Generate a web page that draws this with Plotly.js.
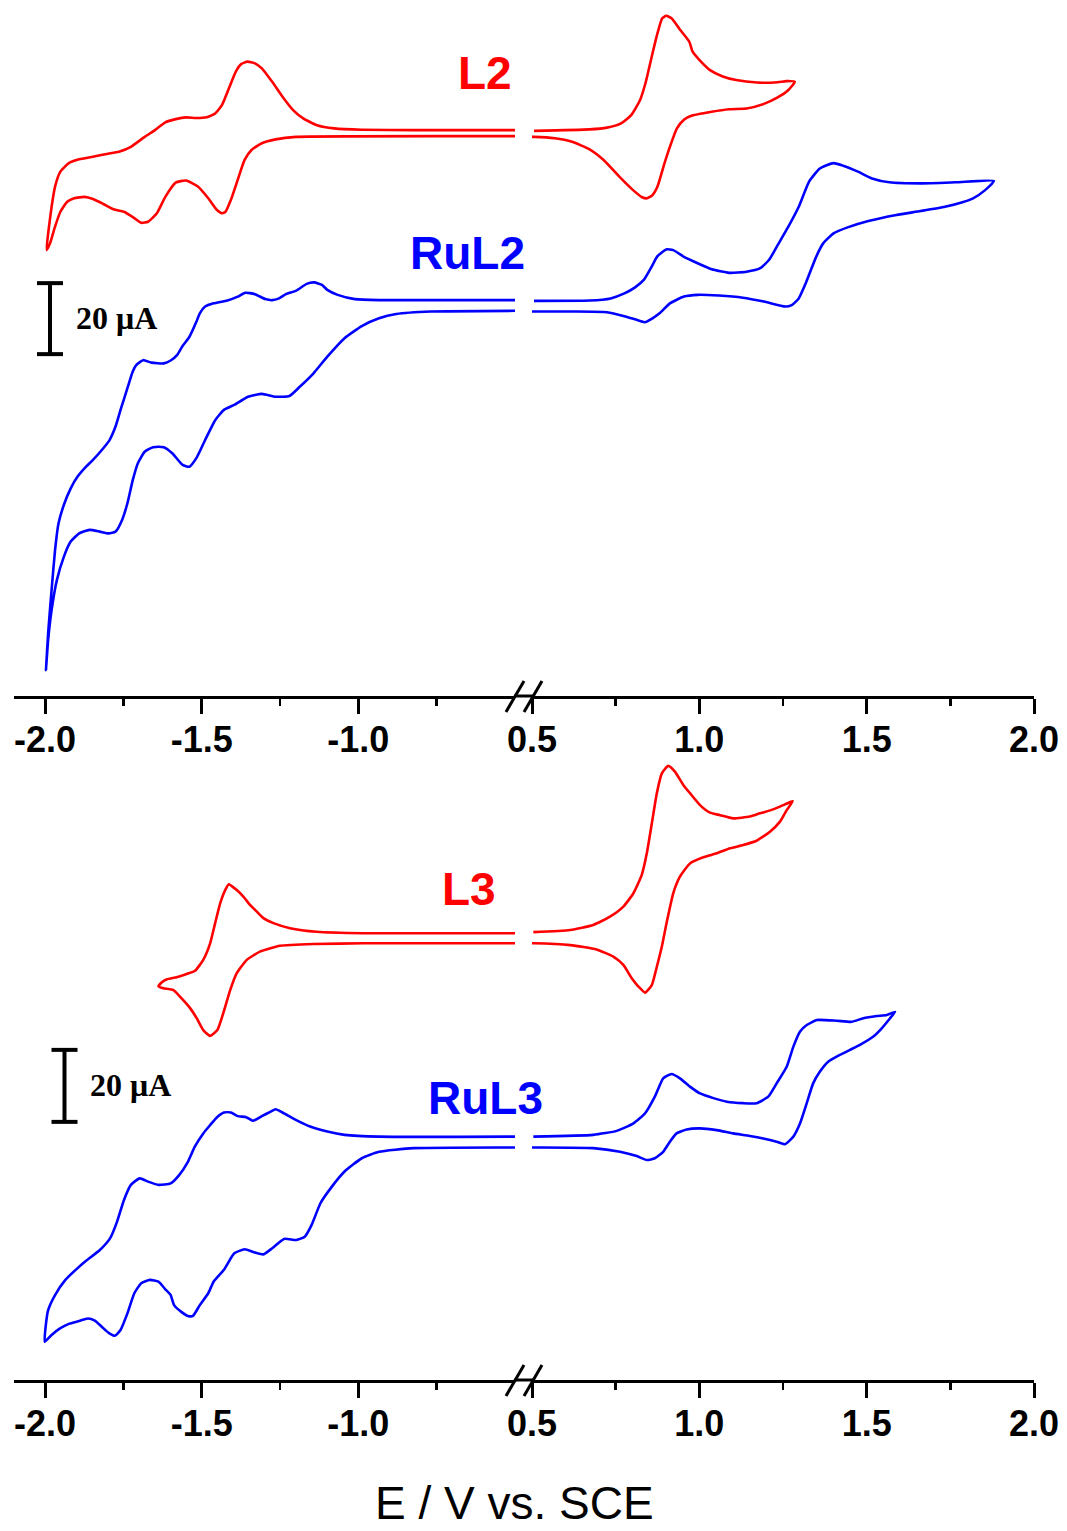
<!DOCTYPE html>
<html>
<head>
<meta charset="utf-8">
<script src="https://cdn.plot.ly/plotly-3.0.1.min.js"></script>
<style>html,body{margin:0;padding:0;background:#fff;}#chart{width:1067px;height:1531px;}</style>
</head>
<body>
<div id="chart"></div>
<script>
// ---------- DATA (E in V vs. SCE, I in microamps; curves offset for display) ----------
// Each CV is a closed loop: upper-right branch, lower-right, lower-left, upper-left
const L2_E = [
  0.506, 0.672, 0.724, 0.766, 0.797, 0.823, 0.839, 0.860, 0.875, 0.889, 0.901, 0.917, 0.943, 0.970, 0.980, 1.000, 1.032, 1.068, 1.110, 1.172, 1.234, 1.260, 1.285,
  1.266, 1.234, 1.193, 1.141, 1.089, 1.037, 0.974, 0.954, 0.933, 0.912, 0.896, 0.875, 0.860, 0.844, 0.829, 0.802, 0.766, 0.714, 0.672, 0.620, 0.568, 0.506,
  -0.499, -1.199, -1.264, -1.308, -1.341, -1.363, -1.385, -1.407, -1.424, -1.435, -1.451, -1.479, -1.512, -1.550, -1.583, -1.616, -1.643, -1.671, -1.693, -1.715, -1.748, -1.781, -1.814, -1.847, -1.874, -1.907, -1.929, -1.951, -1.968, -1.984, -1.995,
  -1.990, -1.979, -1.968, -1.951, -1.924, -1.891, -1.847, -1.803, -1.764, -1.726, -1.682, -1.649, -1.616, -1.583, -1.550, -1.517, -1.484, -1.457, -1.435, -1.413, -1.391, -1.374, -1.354, -1.330, -1.308, -1.275, -1.242, -1.209, -1.176, -1.132, -1.077, -0.989, -0.825, -0.499
];
const L2_I = [
  159.2, 159.6, 160.1, 161.3, 163.7, 167.9, 172.6, 181.0, 186.7, 190.9, 191.6, 190.9, 187.6, 184.3, 181.5, 179.2, 176.3, 174.6, 173.5, 172.8, 172.9, 173.2, 173.0,
  170.7, 168.6, 166.8, 165.5, 165.3, 164.6, 163.4, 162.3, 159.9, 154.7, 150.1, 143.5, 141.1, 140.2, 140.5, 142.5, 145.8, 151.0, 154.0, 156.1, 157.1, 157.5,
  157.7, 157.5, 156.8, 155.7, 153.8, 151.0, 145.4, 139.7, 136.4, 136.0, 136.9, 140.2, 143.5, 145.2, 144.6, 140.6, 136.0, 133.6, 133.3, 134.6, 136.4, 137.1, 138.6, 140.0, 140.6, 140.2, 139.2, 136.4, 132.2, 127.5, 125.6,
  130.3, 137.8, 143.5, 147.7, 150.1, 151.2, 151.9, 152.7, 153.3, 154.7, 157.5, 159.4, 161.6, 162.5, 163.0, 162.8, 163.0, 164.1, 166.5, 171.2, 175.9, 178.0, 178.7, 178.2, 176.8, 173.0, 168.8, 165.1, 162.7, 160.8, 159.9, 159.5, 159.4, 159.4
];

const RuL2_E = [
  0.506, 0.672, 0.735, 0.776, 0.808, 0.834, 0.855, 0.875, 0.901, 0.922, 0.954, 0.995, 1.037, 1.089, 1.141, 1.182, 1.208, 1.234, 1.266, 1.297, 1.328, 1.360, 1.401, 1.432, 1.474, 1.516, 1.568, 1.661, 1.766, 1.880,
  1.854, 1.818, 1.786, 1.734, 1.661, 1.589, 1.505, 1.443, 1.401, 1.370, 1.349, 1.318, 1.297, 1.276, 1.257, 1.193, 1.130, 1.058, 0.995, 0.954, 0.912, 0.881, 0.860, 0.837, 0.808, 0.776, 0.724, 0.620, 0.506,
  -0.500, -0.769, -0.879, -0.934, -0.989, -1.044, -1.099, -1.143, -1.187, -1.220, -1.264, -1.308, -1.352, -1.396, -1.429, -1.457, -1.489, -1.517, -1.539, -1.561, -1.594, -1.621, -1.655, -1.682, -1.704, -1.720, -1.737, -1.754, -1.775, -1.797, -1.825, -1.858, -1.891, -1.918, -1.940, -1.962, -1.979, -1.990, -1.997,
  -1.990, -1.979, -1.968, -1.957, -1.940, -1.918, -1.896, -1.869, -1.847, -1.814, -1.794, -1.775, -1.759, -1.737, -1.720, -1.709, -1.687, -1.660, -1.621, -1.599, -1.578, -1.561, -1.539, -1.517, -1.506, -1.489, -1.462, -1.418, -1.385, -1.361, -1.330, -1.297, -1.275, -1.253, -1.231, -1.198, -1.165, -1.141, -1.116, -1.099, -1.066, -1.011, -0.934, -0.500
];
const RuL2_I = [
  111.3, 111.4, 112.0, 113.4, 115.1, 117.2, 120.5, 123.9, 125.8, 125.6, 123.7, 121.9, 120.2, 119.2, 119.5, 120.5, 122.8, 127.0, 132.2, 137.8, 144.9, 148.6, 150.1, 149.3, 147.7, 145.8, 144.7, 144.4, 144.7, 145.1,
  142.5, 140.2, 139.1, 137.8, 136.6, 135.5, 133.8, 132.0, 130.3, 127.5, 123.7, 116.3, 112.0, 110.1, 109.7, 111.1, 112.2, 112.8, 113.0, 112.5, 110.6, 107.8, 106.4, 105.3, 106.1, 107.0, 108.1, 108.3, 108.3,
  108.5, 108.3, 107.6, 106.4, 104.2, 100.8, 95.6, 90.9, 87.1, 84.5, 84.3, 85.1, 84.3, 82.0, 80.6, 77.7, 72.1, 67.0, 64.6, 65.1, 68.4, 70.1, 70.1, 68.8, 65.5, 60.8, 54.3, 49.6, 46.3, 45.8, 46.3, 46.8, 45.8, 43.5, 39.2, 32.7, 24.2, 15.8, 7.3,
  17.7, 29.9, 41.1, 48.6, 53.8, 58.5, 61.8, 64.6, 66.5, 69.8, 72.1, 75.9, 80.6, 86.7, 91.4, 93.2, 94.6, 93.9, 93.7, 94.5, 96.1, 98.6, 101.2, 105.4, 107.8, 109.7, 110.6, 111.4, 112.5, 113.6, 113.2, 111.8, 111.5, 112.0, 113.2, 114.2, 116.1, 116.5, 115.8, 114.4, 113.0, 111.8, 111.5, 111.5
];

const L3_E = [
  0.504, 0.614, 0.683, 0.733, 0.773, 0.803, 0.828, 0.843, 0.858, 0.873, 0.888, 0.907, 0.927, 0.952, 0.972, 1.002, 1.032, 1.062, 1.101, 1.151, 1.181, 1.221, 1.256, 1.279,
  1.261, 1.241, 1.211, 1.171, 1.131, 1.092, 1.052, 1.012, 0.972, 0.942, 0.922, 0.902, 0.888, 0.873, 0.858, 0.838, 0.818, 0.798, 0.773, 0.743, 0.693, 0.614, 0.504,
  -0.499, -0.984, -1.143, -1.250, -1.314, -1.356, -1.388, -1.409, -1.431, -1.450, -1.473, -1.495, -1.516, -1.537, -1.564, -1.590, -1.622, -1.638,
  -1.627, -1.611, -1.580, -1.548, -1.521, -1.495, -1.473, -1.457, -1.441, -1.425, -1.413, -1.404, -1.388, -1.367, -1.345, -1.324, -1.303, -1.271, -1.218, -1.133, -0.984, -0.499
];
const L3_I = [
  124.4, 125.0, 126.4, 128.7, 131.5, 135.2, 140.3, 146.3, 154.6, 163.0, 168.5, 170.6, 169.0, 165.3, 163.0, 159.7, 157.6, 156.9, 156.0, 156.5, 157.4, 158.5, 159.9, 160.8,
  158.3, 155.1, 152.3, 149.8, 148.6, 147.7, 146.3, 145.2, 143.5, 139.8, 135.2, 126.9, 120.4, 114.8, 109.7, 107.6, 109.3, 111.6, 115.3, 117.6, 119.6, 120.8, 121.3,
  121.3, 121.3, 121.1, 120.6, 119.0, 116.7, 113.0, 108.3, 101.9, 97.2, 95.6, 97.2, 100.5, 103.3, 106.0, 108.3, 108.8, 109.3,
  110.5, 111.3, 111.9, 112.8, 113.7, 116.7, 121.3, 126.9, 132.4, 136.1, 137.7, 137.2, 136.1, 134.3, 131.9, 130.1, 128.3, 126.9, 125.5, 124.5, 124.1, 124.1
];

const RuL3_E = [
  0.504, 0.683, 0.753, 0.803, 0.838, 0.867, 0.892, 0.917, 0.942, 0.972, 1.002, 1.042, 1.082, 1.131, 1.171, 1.206, 1.231, 1.261, 1.281, 1.301, 1.321, 1.351, 1.410, 1.455, 1.490, 1.530, 1.560, 1.585,
  1.570, 1.545, 1.520, 1.480, 1.450, 1.420, 1.385, 1.360, 1.340, 1.321, 1.301, 1.281, 1.256, 1.231, 1.191, 1.151, 1.101, 1.052, 1.002, 0.962, 0.932, 0.912, 0.892, 0.867, 0.843, 0.813, 0.763, 0.683, 0.504,
  -0.500, -0.824, -0.934, -0.989, -1.044, -1.088, -1.121, -1.149, -1.171, -1.198, -1.237, -1.275, -1.303, -1.330, -1.363, -1.396, -1.429, -1.462, -1.479, -1.506, -1.528, -1.544, -1.566, -1.588, -1.599, -1.616, -1.638, -1.665, -1.693, -1.715, -1.737, -1.759, -1.777, -1.797, -1.819, -1.841, -1.863, -1.891, -1.924, -1.951, -1.979, -2.001,
  -1.998, -1.990, -1.968, -1.935, -1.902, -1.869, -1.825, -1.792, -1.770, -1.748, -1.726, -1.698, -1.671, -1.638, -1.599, -1.572, -1.544, -1.522, -1.495, -1.473, -1.451, -1.429, -1.407, -1.385, -1.358, -1.336, -1.308, -1.281, -1.264, -1.242, -1.198, -1.154, -1.099, -1.044, -0.934, -0.500
];
const RuL3_I = [
  67.6, 68.1, 69.2, 71.3, 74.1, 78.7, 83.8, 85.0, 83.8, 81.5, 79.6, 78.3, 77.3, 76.9, 76.9, 78.7, 82.4, 87.0, 92.6, 96.8, 98.6, 100.0, 99.8, 99.5, 100.5, 101.1, 101.4, 102.3,
  100.5, 97.7, 95.4, 93.1, 91.7, 90.3, 88.4, 85.6, 82.4, 76.9, 71.3, 67.6, 65.5, 66.2, 67.1, 67.8, 68.5, 69.4, 69.9, 69.6, 68.5, 66.2, 63.4, 61.6, 61.1, 62.2, 63.4, 64.4, 64.6,
  64.6, 64.4, 63.4, 61.6, 57.9, 53.3, 49.1, 43.1, 39.8, 38.9, 39.2, 36.6, 34.9, 35.4, 36.3, 35.2, 30.6, 27.3, 24.1, 20.8, 17.8, 17.8, 19.0, 20.8, 23.6, 25.2, 27.3, 27.8, 26.9, 24.1, 18.5, 13.9, 12.3, 13.1, 14.8, 16.5, 17.1, 16.4, 15.6, 14.4, 12.5, 10.6,
  14.8, 19.4, 23.6, 27.8, 30.6, 33.1, 36.1, 39.4, 44.0, 50.0, 54.2, 56.0, 55.1, 54.2, 54.6, 56.9, 60.6, 64.8, 68.5, 70.8, 73.0, 74.3, 74.3, 73.3, 73.0, 72.0, 73.3, 74.5, 75.2, 74.3, 72.2, 70.4, 69.0, 68.1, 67.6, 67.6
];

// axis ticks
const leftTicks = [-2.0, -1.5, -1.0];
const leftTickText = ['-2.0', '-1.5', '-1.0'];
const leftMinor = [-1.75, -1.25, -0.75];
const rightTicks = [0.5, 1.0, 1.5, 2.0];
const rightTickText = ['0.5', '1.0', '1.5', '2.0'];
const rightMinor = [0.75, 1.25, 1.75];

// labels
const curveLabels = ['L2', 'RuL2', 'L3', 'RuL3'];
const scaleBarValue = 20;          // microamps
const scaleBarText = '20 \u03BCA';
const xTitle = 'E / V vs. SCE';

// ---------- STYLE / LAYOUT ----------
const W = 1067, H = 1531;
const px = v => v / W;
const py = v => 1 - v / H;
const RED = '#ff0000', BLUE = '#0000ff';
const LW = 2.6;

function loopTraces(E, I, color, xl, xr, y) {
  const base = {x: E, y: I, mode: 'lines', line: {color: color, width: LW, shape: 'spline', smoothing: 0.5},
    hoverinfo: 'skip', showlegend: false};
  return [Object.assign({}, base, {xaxis: xl, yaxis: y}), Object.assign({}, base, {xaxis: xr, yaxis: y})];
}

const data = [].concat(
  loopTraces(L2_E, L2_I, RED, 'x', 'x2', 'y'),
  loopTraces(RuL2_E, RuL2_I, BLUE, 'x', 'x2', 'y'),
  loopTraces(L3_E, L3_I, RED, 'x3', 'x4', 'y2'),
  loopTraces(RuL3_E, RuL3_I, BLUE, 'x3', 'x4', 'y2')
);

const tickFont = {family: 'Arial, "Liberation Sans", sans-serif', size: 36, color: '#000', weight: 'bold'};
function xAxis(side, anchor) {
  const left = side === 'left';
  return {
    domain: left ? [px(14), px(515)] : [px(532), px(1034)],
    range: left ? [-2.099, -0.5] : [0.5, 2.0],
    anchor: anchor, showgrid: false, zeroline: false, fixedrange: true,
    showline: true, linecolor: '#000', linewidth: 3,
    ticks: 'outside', ticklen: 15, tickwidth: 3, tickcolor: '#000',
    tickmode: 'array', tickvals: left ? leftTicks : rightTicks, ticktext: left ? leftTickText : rightTickText,
    minor: {tickmode: 'array', tickvals: left ? leftMinor : rightMinor, ticks: 'outside', ticklen: 7, tickwidth: 2.5, tickcolor: '#000', showgrid: false},
    tickfont: tickFont, ticklabelstandoff: -5
  };
}

const TOP_PX_PER_UA = 3.55, BOT_PX_PER_UA = 3.6;
const layout = {
  width: W, height: H, margin: {l: 0, r: 0, t: 0, b: 0},
  paper_bgcolor: '#fff', plot_bgcolor: 'rgba(0,0,0,0)', showlegend: false,
  xaxis: xAxis('left', 'y'),
  xaxis2: xAxis('right', 'y'),
  xaxis3: xAxis('left', 'y2'),
  xaxis4: xAxis('right', 'y2'),
  yaxis: {domain: [py(696), 1], range: [0, 696 / TOP_PX_PER_UA], visible: false, fixedrange: true},
  yaxis2: {domain: [py(1380), py(750)], range: [0, 630 / BOT_PX_PER_UA], visible: false, fixedrange: true},
  shapes: [],
  annotations: []
};

// axis gap line + break marks
[696, 1380].forEach(a => {
  layout.shapes.push({type: 'line', xref: 'paper', yref: 'paper', x0: px(514), x1: px(533), y0: py(a), y1: py(a), line: {color: '#000', width: 3}});
  layout.shapes.push({type: 'line', xref: 'paper', yref: 'paper', x0: px(506), x1: px(524), y0: py(a + 16), y1: py(a - 15), line: {color: '#000', width: 3}});
  layout.shapes.push({type: 'line', xref: 'paper', yref: 'paper', x0: px(524), x1: px(542), y0: py(a + 16), y1: py(a - 15), line: {color: '#000', width: 3}});
});

// scale bars
function scaleBar(xc, yref, base, half) {
  const top = base + scaleBarValue;
  layout.shapes.push({type: 'line', xref: 'paper', yref: yref, x0: px(xc), x1: px(xc), y0: base, y1: top, line: {color: '#000', width: 4}});
  layout.shapes.push({type: 'line', xref: 'paper', yref: yref, x0: px(xc - half), x1: px(xc + half), y0: base, y1: base, line: {color: '#000', width: 4}});
  layout.shapes.push({type: 'line', xref: 'paper', yref: yref, x0: px(xc - half), x1: px(xc + half), y0: top, y1: top, line: {color: '#000', width: 4}});
}
scaleBar(50, 'y', 96.3, 13);
scaleBar(64.5, 'y2', 71.7, 13);

function label(text, x, y, color, size, family, weight) {
  layout.annotations.push({text: text, xref: 'paper', yref: 'paper', x: px(x), y: py(y), xanchor: 'center', yanchor: 'middle',
    showarrow: false, font: {family: family, size: size, color: color, weight: weight}});
}
const ARIAL = 'Arial, "Liberation Sans", sans-serif';
const TIMES = '"Times New Roman", "Liberation Serif", serif';
label(curveLabels[0], 485, 72.5, RED, 46, ARIAL, 'bold');
label(curveLabels[1], 467, 253.5, BLUE, 46, ARIAL, 'bold');
label(curveLabels[2], 469, 888.5, RED, 46, ARIAL, 'bold');
label(curveLabels[3], 485, 1097.5, BLUE, 46, ARIAL, 'bold');
label(scaleBarText, 116, 318.5, '#000', 32, TIMES, 'bold');
label(scaleBarText, 130, 1085, '#000', 32, TIMES, 'bold');
label(xTitle, 514, 1503, '#000', 46, ARIAL, 'normal');

Plotly.newPlot('chart', data, layout, {staticPlot: true, displayModeBar: false});
</script>
</body>
</html>
